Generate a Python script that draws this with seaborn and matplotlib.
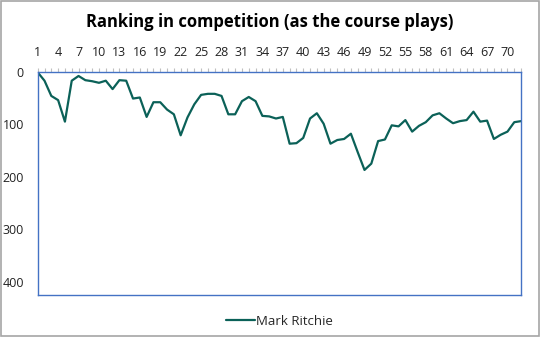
import matplotlib
matplotlib.use("Agg")
import matplotlib.pyplot as plt
import seaborn as sns
import pandas as pd
from matplotlib.patches import Rectangle

rounds = list(range(1, 73))
ranking = [1, 17, 46, 54, 95, 17, 8, 16, 18, 21, 17, 33, 16, 17, 51, 49, 86, 58, 58, 72,
           81, 121, 87, 62, 44, 42, 42, 46, 81, 81, 56, 48, 56, 84, 85, 89, 86, 137, 136, 126,
           89, 79, 99, 137, 130, 128, 118, 153, 187, 175, 132, 129, 102, 104, 92, 114, 103, 96,
           83, 79, 89, 98, 94, 92, 76, 95, 93, 128, 120, 114, 96, 94]
player = "Mark Ritchie"
title = "Ranking in competition (as the course plays)"
y_ticks = [0, 100, 200, 300, 400]

df = pd.DataFrame({"Round": rounds, "Ranking": ranking, "Player": player})

sns.set_style("white")
plt.rcParams["font.family"] = ["Open Sans", "DejaVu Sans"]

fig = plt.figure(figsize=(5.4, 3.37), dpi=100)
ax = fig.add_axes([0.0698, 0.125, 0.8952, 0.662])

sns.lineplot(data=df, x="Round", y="Ranking", hue="Player", palette=["#0b6158"],
             linewidth=1.6, ax=ax, legend=True)

ax.set_xlim(1, 72)
ax.set_ylim(425, 0)
ax.xaxis.tick_top()
ax.set_xticks(rounds)
ax.set_xticklabels([str(r) if (r - 1) % 3 == 0 else "" for r in rounds])
ax.set_yticks(y_ticks)
ax.set_yticklabels([str(v) for v in y_ticks])
ax.tick_params(axis="x", which="major", direction="out", length=3, width=0.8,
               color="#bfbfbf", labelsize=9, labelcolor="#222222", pad=6)
ax.tick_params(axis="y", which="major", direction="out", length=4, width=0.8,
               color="#bfbfbf", labelsize=9, labelcolor="#222222", pad=6)
ax.set_xlabel("")
ax.set_ylabel("")
for s in ax.spines.values():
    s.set_visible(True)
    s.set_color("#4472c4")
    s.set_linewidth(1.0)

ax.legend(loc="upper center", bbox_to_anchor=(0.5, -0.035), frameon=False,
          fontsize=9.5, handlelength=2.2, handletextpad=0.1)

fig.text(0.5, 0.935, title, ha="center", va="center", fontsize=12, fontweight="bold",
         color="#000000")

fig.add_artist(Rectangle((0.001, 0.002), 0.997, 0.995, transform=fig.transFigure,
                         fill=False, edgecolor="#a6a6a6", linewidth=1.2))

fig.savefig("out.png", dpi=100)
